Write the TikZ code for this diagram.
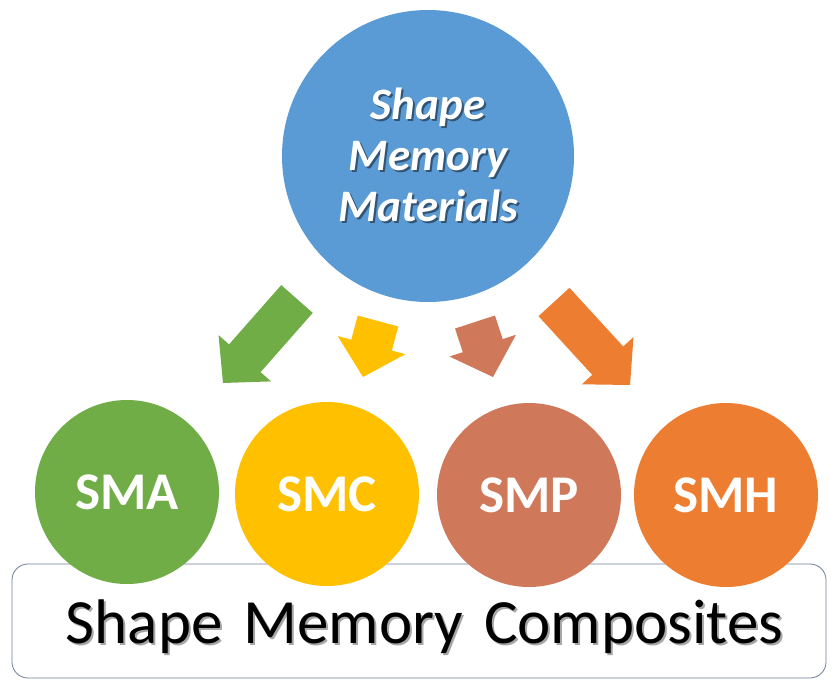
\documentclass[tikz,border=0pt]{standalone}
\usepackage{fontspec}
\setmainfont{Carlito}
\usetikzlibrary{calc}

\definecolor{smmblue}{HTML}{5B9BD5}
\definecolor{smagreen}{HTML}{70AD47}
\definecolor{smcgold}{HTML}{FFC000}
\definecolor{smpclay}{HTML}{D0795A}
\definecolor{smhorange}{HTML}{ED7D31}
\definecolor{framegray}{HTML}{6F7F99}

% wide block arrow from #1 (tail) to #2 (tip), filled with #3
\newcommand\blockarrow[3]{%
  \coordinate (neck) at ($(#2)!33pt!(#1)$);
  \fill[#3] ($(#1)!21pt!90:(#2)$) -- ($(neck)!21pt!90:(#2)$)
        -- ($(neck)!35pt!90:(#2)$) -- (#2)
        -- ($(neck)!35pt!-90:(#2)$) -- ($(neck)!21pt!-90:(#2)$)
        -- ($(#1)!21pt!-90:(#2)$) -- cycle;
}

% text with a drop shadow: #1 shadow colour, #2 text
\newcommand\dropshade[2]{%
  \makebox[0pt][l]{\kern2pt\raisebox{-2pt}{\textcolor{#1}{#2}}}#2}

\tikzset{
  ball/.style={circle, inner sep=0pt, minimum size=184pt, text=white,
    font=\fontsize{53}{53}\selectfont\bfseries},
  bigball/.style={circle, inner sep=0pt, minimum size=292pt, fill=smmblue,
    align=center, text=white,
    font=\fontsize{45}{51}\selectfont\bfseries\itshape},
  basetext/.style={font=\fontsize{63}{63}\selectfont, anchor=base},
}

\begin{document}
\begin{tikzpicture}[x=1pt, y=-1pt]
  \useasboundingbox (0,0) rectangle (833,680);
  \fill[white] (0,0) rectangle (833,680);

  % frame holding the bottom caption
  \draw[framegray, line width=0.8pt, fill=white, rounded corners=16pt]
    (12,564) rectangle (826,678);
  \node[basetext, text=black] (caption) at (424.5,643)
    {\dropshade{black!35}{Shape}\hspace{21pt}\dropshade{black!35}{Memory}%
     \hspace{21pt}\dropshade{black!35}{Composites}};

  % top circle
  \node[bigball] (smm) at (428,156)
    {\dropshade{smmblue!55!black}{Shape}\\
     \dropshade{smmblue!55!black}{Memory}\\
     \dropshade{smmblue!55!black}{Materials}};

  % the four classes
  \node[ball, fill=smagreen]  (sma) at (127,492) {SMA};
  \node[ball, fill=smcgold]   (smc) at (327,494) {SMC};
  \node[ball, fill=smpclay]   (smp) at (529,495) {SMP};
  \node[ball, fill=smhorange] (smh) at (726,495) {SMH};

  % arrows between the rows
  \coordinate (gtail) at (297,299); \coordinate (gtip) at (223,383);
  \coordinate (ytail) at (378,321); \coordinate (ytip) at (363,377);
  \coordinate (btail) at (475,322); \coordinate (btip) at (493,377);
  \coordinate (otail) at (554,302); \coordinate (otip) at (630,385);
  \blockarrow{gtail}{gtip}{smagreen}
  \blockarrow{ytail}{ytip}{smcgold}
  \blockarrow{btail}{btip}{smpclay}
  \blockarrow{otail}{otip}{smhorange}
\end{tikzpicture}
\end{document}
